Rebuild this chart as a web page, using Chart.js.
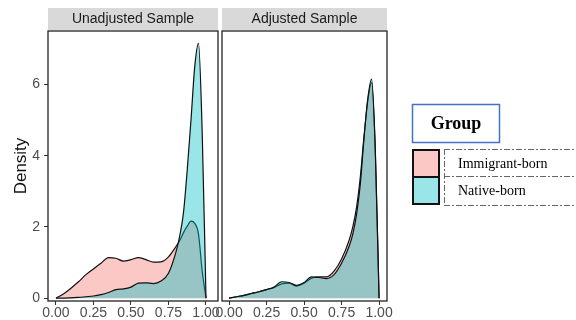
<!DOCTYPE html>
<html>
<head>
<meta charset="utf-8">
<script src="https://cdn.jsdelivr.net/npm/chart.js@4"></script>
<style>
  body { margin: 0; background: #fff; }
  #wrap { position: relative; width: 576px; height: 320px; }
  #wrap canvas { position: absolute; left: 0; top: 0; }
</style>
</head>
<body>
<div id="wrap">
  <canvas id="leftChart" width="576" height="320"></canvas>
  <canvas id="rightChart" width="576" height="320"></canvas>
</div>
<script>
// data
const panels = ['Unadjusted Sample', 'Adjusted Sample'];
const groups = ['Immigrant-born', 'Native-born'];
const xTicks = [0, 0.25, 0.5, 0.75, 1];
const yTicks = [0, 2, 4, 6];
const densityX = [0, 0.05, 0.1, 0.15, 0.2, 0.25, 0.3, 0.35, 0.4, 0.45, 0.5, 0.55, 0.6, 0.65, 0.7, 0.75, 0.8, 0.825, 0.85, 0.875, 0.9, 0.925, 0.95, 0.975, 1.0];
const unadjImmigrant = [0, 0.12, 0.28, 0.46, 0.66, 0.82, 0.98, 1.14, 1.12, 1.04, 1.08, 1.14, 1.08, 1.01, 1.02, 1.16, 1.45, 1.62, 1.84, 2.02, 2.16, 2.1, 1.8, 0.75, 0];
const unadjNative = [0, 0, 0.01, 0.02, 0.04, 0.06, 0.1, 0.16, 0.24, 0.26, 0.31, 0.42, 0.43, 0.41, 0.48, 0.7, 1.3, 1.75, 2.4, 3.6, 5.0, 6.5, 7.15, 4.6, 0];
const adjImmigrant = [0, 0.04, 0.08, 0.13, 0.18, 0.24, 0.3, 0.4, 0.42, 0.34, 0.42, 0.56, 0.6, 0.6, 0.76, 1.1, 1.62, 2.0, 2.55, 3.4, 4.55, 5.55, 6.05, 4.1, 0];
const adjNative = [0, 0.04, 0.08, 0.13, 0.18, 0.24, 0.31, 0.46, 0.44, 0.36, 0.44, 0.6, 0.58, 0.55, 0.66, 0.98, 1.45, 1.8, 2.35, 3.2, 4.5, 5.6, 6.15, 4.2, 0];

const fills = ['rgba(248,118,109,0.4)', 'rgba(0,191,196,0.4)'];

Chart.defaults.font.family = "'Liberation Sans', Arial, sans-serif";

function pts(ys) {
    return densityX.map((x, i) => ({ x: x, y: ys[i] }));
}

function makeSets(immig, native) {
    return [
        { label: groups[0], data: pts(immig), backgroundColor: fills[0], order: 1 },
        { label: groups[1], data: pts(native), backgroundColor: fills[1], order: 0 }
    ].map(d => Object.assign(d, {
        borderColor: '#111', borderWidth: 1.2, pointRadius: 0,
        fill: 'origin', cubicInterpolationMode: 'monotone'
    }));
}

// strip on top + black panel border
const panelDeco = {
    id: 'panelDeco',
    afterDraw(chart, args, opts) {
        const { ctx, chartArea: a } = chart;
        ctx.save();
        ctx.fillStyle = '#D9D9D9';
        ctx.fillRect(a.left, 8, a.right - a.left, 22);
        ctx.fillStyle = '#1A1A1A';
        ctx.font = "14px 'Liberation Sans', Arial, sans-serif";
        ctx.textAlign = 'center';
        ctx.textBaseline = 'middle';
        ctx.fillText(opts.title, (a.left + a.right) / 2, 19);
        ctx.strokeStyle = '#222';
        ctx.lineWidth = 1.3;
        ctx.strokeRect(a.left, a.top, a.right - a.left, a.bottom - a.top);
        ctx.restore();
    }
};

// ggplot style legend box
const groupLegend = {
    id: 'groupLegend',
    afterDraw(chart) {
        const ctx = chart.ctx;
        ctx.save();
        ctx.strokeStyle = '#4472C4';
        ctx.lineWidth = 1.5;
        ctx.strokeRect(412.5, 104.5, 87, 38);
        ctx.fillStyle = '#000';
        ctx.font = "bold 18px 'Liberation Serif', 'Times New Roman', serif";
        ctx.textAlign = 'center';
        ctx.textBaseline = 'middle';
        ctx.fillText('Group', 456, 124);

        chart.data.datasets.forEach((ds, i) => {
            const y = 150 + i * 27;
            ctx.fillStyle = ds.backgroundColor;
            ctx.fillRect(413, y, 26, 27);
            ctx.strokeStyle = '#111';
            ctx.lineWidth = 2;
            ctx.strokeRect(413, y, 26, 27);
            ctx.fillStyle = '#000';
            ctx.font = "14px 'Liberation Serif', 'Times New Roman', serif";
            ctx.textAlign = 'left';
            ctx.fillText(ds.label, 458, y + 14);
        });

        ctx.strokeStyle = '#666';
        ctx.lineWidth = 1;
        ctx.setLineDash([6, 2, 2, 2]);
        ctx.beginPath();
        [149.5, 176.5, 205.5].forEach(y => { ctx.moveTo(444, y); ctx.lineTo(576, y); });
        ctx.moveTo(444.5, 149); ctx.lineTo(444.5, 206);
        ctx.stroke();
        ctx.restore();
    }
};

function xScale(min, max) {
    return {
        type: 'linear', min: min, max: max,
        afterBuildTicks: s => { s.ticks = xTicks.map(v => ({ value: v })); },
        afterFit: s => { s.height = 19; },
        grid: { drawOnChartArea: false, tickLength: 4, tickColor: '#333' },
        border: { display: false },
        ticks: { color: '#4D4D4D', font: { size: 14 }, padding: 0, maxRotation: 0,
                 callback: v => v.toFixed(2) }
    };
}

const yRange = { min: -0.08, max: 7.5 };

new Chart(document.getElementById('leftChart'), {
    type: 'line',
    data: { datasets: makeSets(unadjImmigrant, unadjNative) },
    options: {
        responsive: false, animation: false, devicePixelRatio: 1,
        layout: { padding: { left: 0, right: 358, top: 31, bottom: 0 } },
        plugins: { legend: { display: false }, tooltip: { enabled: false }, panelDeco: { title: panels[0] } },
        scales: {
            x: xScale(-0.053, 1.08),
            y: {
                type: 'linear', min: yRange.min, max: yRange.max,
                afterBuildTicks: s => { s.ticks = yTicks.map(v => ({ value: v })); },
                afterFit: s => { s.width = 48; },
                grid: { drawOnChartArea: false, tickLength: 4, tickColor: '#333' },
                border: { display: false },
                ticks: { color: '#4D4D4D', font: { size: 14 }, padding: 4 },
                title: { display: true, text: 'Density', color: '#111', font: { size: 17 }, padding: { top: 11, bottom: 0 } }
            }
        }
    },
    plugins: [panelDeco]
});

new Chart(document.getElementById('rightChart'), {
    type: 'line',
    data: { datasets: makeSets(adjImmigrant, adjNative) },
    options: {
        responsive: false, animation: false, devicePixelRatio: 1,
        layout: { padding: { left: 222, right: 189, top: 31, bottom: 0 } },
        plugins: { legend: { display: false }, tooltip: { enabled: false }, panelDeco: { title: panels[1] } },
        scales: {
            x: xScale(-0.047, 1.053),
            y: { type: 'linear', display: false, min: yRange.min, max: yRange.max }
        }
    },
    plugins: [panelDeco, groupLegend]
});
</script>
</body>
</html>
